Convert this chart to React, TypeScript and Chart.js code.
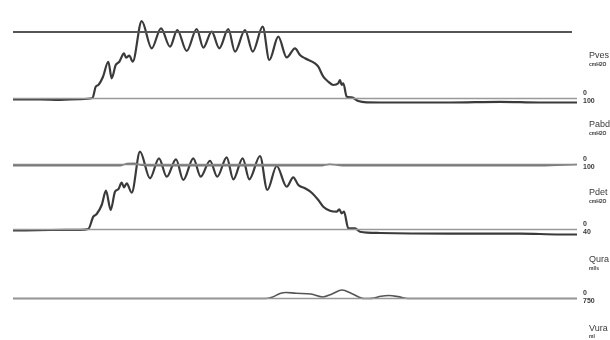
import React, { useEffect, useRef } from "react";
import { Chart, registerables } from "chart.js";

Chart.register(...registerables);

// ---- Data (time in s, values in channel units) ----
const PVES_T = [13, 40, 60, 80, 92.5, 95.7, 98.3, 103, 108.3, 111.7, 115.7, 119.3, 124, 126, 129.3, 132.7, 141.7, 151.7, 161, 170, 177.3, 186.7, 196.7, 203.3, 211.7, 219.3, 228.3, 235, 245, 252.7, 262.7, 269.3, 278.3, 286.7, 295, 300, 305, 315, 318.3, 323.3, 328.3, 333.3, 338.3, 340, 341.7, 343.3, 346.7, 351.7, 358.3, 366.7, 400, 450, 500, 540, 577];
const PVES_V = [-1.5, -1.2, -2.0, -0.8, 0.8, 17.7, 20.3, 32.8, 55.3, 30.4, 50.4, 55.3, 68.0, 61.4, 64.4, 55.3, 116.5, 75.5, 105.6, 77.9, 103.0, 71.4, 104.5, 76.4, 100.5, 75.5, 104.5, 70.4, 103.0, 70.4, 108.0, 57.9, 92.9, 61.7, 75.5, 65.4, 60.5, 52.9, 47.8, 32.8, 25.3, 20.3, 22.9, 27.8, 20.3, 22.9, 2.7, 1.8, -3.8, -5.7, -6.0, -6.0, -5.0, -6.0, -6.0];

const PABD_T = [13, 120, 127, 134, 142, 160, 320, 330, 338, 345, 540, 577];
const PABD_V = [-2, -2, 1.5, 2, -1, -2, -2, 0.5, -1, -2, -2, 0];

const PDET_T = [13, 50, 80, 88.3, 93.3, 96.7, 101.7, 106, 110.7, 115, 118.3, 121.7, 124, 126.7, 131.7, 140, 150, 159, 166.7, 176, 183.3, 193.3, 200.7, 210, 217.3, 226.7, 233.3, 242.7, 249.3, 260, 267.3, 276.7, 286.7, 293.3, 298.3, 305, 311.7, 318.3, 323.3, 330, 336.7, 339.3, 341.7, 344, 348.3, 355, 360, 380, 450, 520, 560, 577];
const PDET_V = [-1.5, -0.8, -0.5, 0.8, 19.7, 23.8, 37.7, 59.7, 30, 58.2, 61.8, 72, 64.9, 71.1, 56.6, 119.7, 78.8, 109.5, 81.2, 108, 76.2, 109.5, 81.2, 105.8, 81.2, 111.1, 77.2, 109.5, 77.2, 113.1, 60.8, 97.7, 65.8, 80.3, 68.5, 63.4, 56.6, 45.4, 35.1, 28.9, 27.4, 31.1, 24.9, 27.4, 1.8, 1.8, -3.4, -5.4, -6.2, -6.2, -7.7, -7.7];

const QURA_T = [13, 265, 272, 280, 286, 296, 311, 323, 332, 342, 352, 364, 372, 381, 389, 398, 408, 577];
const QURA_V = [0, 0, 0.7, 2.9, 3.5, 3.0, 2.6, 0.9, 2.6, 4.9, 2.8, 0, 0.1, 1.3, 1.7, 1.1, 0, 0];

const TIME_RANGE = [13, 577];

// channel labels (name, unit) and scale labels (bottom of channel / top of next)
const CHANNEL_NAMES = ["Pves", "Pabd", "Pdet", "Qura", "Vura"];
const CHANNEL_UNITS = ["cmH2O", "cmH2O", "cmH2O", "ml/s", "ml"];
const SCALE_ZERO_LABELS = ["0", "0", "0", "0"];
const SCALE_TOP_LABELS = ["100", "100", "40", "750"];

// ---- layout ----
const W = 610;
const H = 340;

function axis(zeroPx: number, pxPerUnit: number) {
  return {
    type: "linear" as const,
    display: false,
    min: -(H - zeroPx) / pxPerUnit,
    max: zeroPx / pxPerUnit,
  };
}

const pts = (t: number[], v: number[]) => t.map((x, i) => ({ x, y: v[i] }));
const flat = (val: number, end = TIME_RANGE[1]) => [
  { x: TIME_RANGE[0], y: val },
  { x: end, y: val },
];

const NAME_Y = [56, 125, 193, 260, 328.5];
const AXIS_IDS = ["yPves", "yPabd", "yPdet", "yQura"];

const labelPlugin = {
  id: "channelLabels",
  afterDraw(chart: any) {
    const ctx = chart.ctx;
    ctx.save();
    ctx.fillStyle = "#3a3a3a";
    ctx.textBaseline = "middle";
    ctx.textAlign = "left";
    CHANNEL_NAMES.forEach((n, i) => {
      ctx.font = "9px 'Liberation Sans', Arial, sans-serif";
      ctx.fillText(n, 589, NAME_Y[i]);
      ctx.font = "bold 5px 'Liberation Sans', Arial, sans-serif";
      ctx.fillText(CHANNEL_UNITS[i], 589, NAME_Y[i] + 8.5);
    });
    ctx.font = "bold 7px 'Liberation Sans', Arial, sans-serif";
    AXIS_IDS.forEach((id, i) => {
      const y0 = chart.scales[id].getPixelForValue(0);
      ctx.fillText(SCALE_ZERO_LABELS[i], 583, y0 - 5.5);
      ctx.fillText(SCALE_TOP_LABELS[i], 583, y0 + 3);
    });
    ctx.restore();
  },
};

export default function App() {
  const ref = useRef<HTMLCanvasElement | null>(null);
  useEffect(() => {
    if (!ref.current) return;
    const trace = "#3a3a3a";
    const base = {
      pointRadius: 0,
      fill: false,
      cubicInterpolationMode: "monotone" as const,
    };
    const chart = new Chart(ref.current, {
      type: "line",
      data: {
        datasets: [
          { ...base, label: "Pves 100", data: flat(100, 572), yAxisID: "yPves", borderColor: "#555", borderWidth: 2 },
          { ...base, label: "Pves 0", data: flat(0), yAxisID: "yPves", borderColor: "#999", borderWidth: 1.3 },
          { ...base, label: "Pdet 100", data: flat(100), yAxisID: "yPdet", borderColor: "#888", borderWidth: 1.5 },
          { ...base, label: "Pdet 0", data: flat(0), yAxisID: "yPdet", borderColor: "#999", borderWidth: 1.3 },
          { ...base, label: "Qura 0", data: flat(0), yAxisID: "yQura", borderColor: "#999", borderWidth: 1.3 },
          { ...base, label: "Pabd", data: pts(PABD_T, PABD_V), yAxisID: "yPabd", borderColor: "#777", borderWidth: 1.5 },
          { ...base, label: "Qura", data: pts(QURA_T, QURA_V), yAxisID: "yQura", borderColor: "#555", borderWidth: 1.6 },
          { ...base, label: "Pves", data: pts(PVES_T, PVES_V), yAxisID: "yPves", borderColor: trace, borderWidth: 2.2 },
          { ...base, label: "Pdet", data: pts(PDET_T, PDET_V), yAxisID: "yPdet", borderColor: trace, borderWidth: 2.2 },
        ],
      },
      options: {
        responsive: false,
        maintainAspectRatio: false,
        animation: false,
        devicePixelRatio: 1,
        layout: { padding: 0 },
        plugins: { legend: { display: false }, tooltip: { enabled: false } },
        scales: {
          x: { type: "linear", display: false, min: 0, max: W },
          yPves: axis(98.5, 0.665),
          yPabd: axis(164.5, 0.66),
          yPdet: axis(229.5, 0.65),
          yQura: axis(298.5, 1.725),
        },
      },
      plugins: [labelPlugin],
    });
    return () => chart.destroy();
  }, []);
  return (
    <div style={{ position: "absolute", left: 0, top: 0, width: W, height: H, background: "#fff" }}>
      <canvas ref={ref} width={W} height={H} style={{ width: W, height: H, display: "block" }} />
    </div>
  );
}
